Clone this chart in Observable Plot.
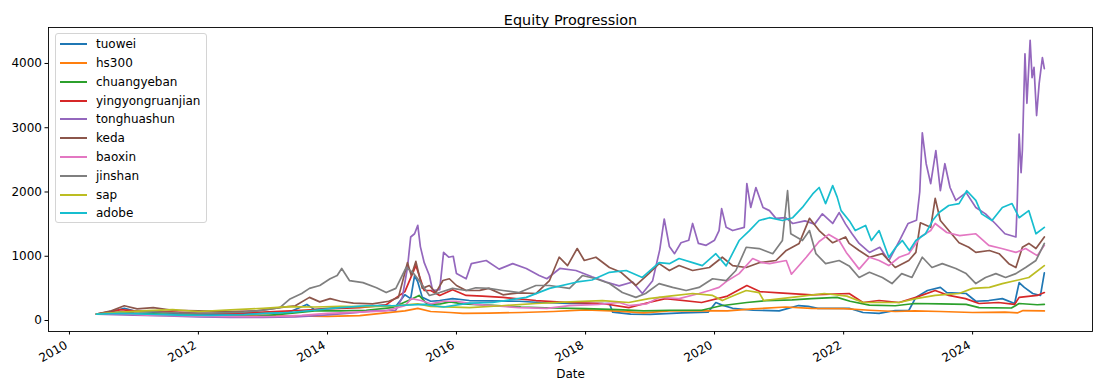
<!DOCTYPE html>
<html>
<head>
<meta charset="utf-8">
<script src="https://cdn.jsdelivr.net/npm/d3@7"></script>
<script src="https://cdn.jsdelivr.net/npm/@observablehq/plot@0.6"></script>
<style>
  html, body { margin: 0; padding: 0; background: #fff; }
  #wrap { position: relative; width: 1103px; height: 390px; font-family: "DejaVu Sans", sans-serif; }
  #legend { position: absolute; left: 55px; top: 33px; width: 152px; height: 190px; box-sizing: border-box;
    border: 1px solid #d4d4d4; border-radius: 3px; background: rgba(255,255,255,0.8); }
  .item { position: absolute; left: 0; width: 150px; height: 16px; font-size: 12px; color: #000; white-space: nowrap; }
  .item .sw { position: absolute; left: 4px; top: 7px; width: 27px; height: 2px; display: block; }
  .item .lb { position: absolute; left: 40px; top: 0; line-height: 16px; display: block; }
</style>
</head>
<body>
<div id="wrap"></div>
<script>
// [decimal year, value]
const tuowei = [[2010.42,100],[2010.6,120],[2010.85,190],[2011.0,150],[2011.3,130],[2011.7,110],[2012.0,95],[2012.5,100],[2013.0,105],[2013.4,130],[2013.68,250],[2013.8,170],[2014.0,190],[2014.3,210],[2014.6,220],[2014.9,240],[2015.06,220],[2015.2,400],[2015.29,340],[2015.35,700],[2015.4,600],[2015.47,360],[2015.6,300],[2015.74,311],[2015.94,340],[2016.2,311],[2016.97,300],[2017.3,280],[2017.75,265],[2018.37,265],[2018.42,130],[2018.7,100],[2019.0,95],[2019.5,120],[2019.9,130],[2020.02,280],[2020.12,240],[2020.28,190],[2020.6,160],[2021.0,150],[2021.3,233],[2021.45,220],[2021.6,190],[2022.085,190],[2022.3,125],[2022.55,110],[2022.8,156],[2023.01,156],[2023.12,360],[2023.3,467],[2023.5,515],[2023.6,435],[2023.9,420],[2024.05,300],[2024.25,311],[2024.46,340],[2024.65,265],[2024.72,590],[2024.8,515],[2024.93,420],[2025.05,390],[2025.11,740]];
const hs300 = [[2010.42,100],[2010.8,105],[2011.0,100],[2011.5,85],[2012.0,75],[2012.5,70],[2013.0,80],[2013.5,70],[2014.0,65],[2014.5,75],[2014.9,120],[2015.2,150],[2015.4,190],[2015.6,140],[2015.9,125],[2016.1,110],[2016.5,115],[2017.0,125],[2017.5,140],[2018.0,165],[2018.5,145],[2018.9,120],[2019.3,150],[2019.8,155],[2020.2,150],[2020.6,180],[2021.1,210],[2021.5,190],[2022.0,185],[2022.4,160],[2022.8,140],[2023.1,150],[2023.5,140],[2024.0,125],[2024.5,130],[2024.7,120],[2024.78,155],[2025.11,150]];
const chuangyeban = [[2010.42,100],[2010.8,130],[2011.0,115],[2011.5,95],[2012.0,75],[2012.5,70],[2012.9,65],[2013.3,100],[2013.8,150],[2014.2,150],[2014.6,160],[2015.0,200],[2015.3,330],[2015.42,390],[2015.55,250],[2015.75,260],[2015.9,290],[2016.1,260],[2016.5,240],[2017.0,210],[2017.5,195],[2018.0,185],[2018.5,170],[2018.9,150],[2019.3,160],[2019.8,160],[2020.1,230],[2020.5,280],[2020.8,310],[2021.2,320],[2021.5,340],[2021.9,360],[2022.1,300],[2022.4,240],[2022.8,230],[2023.1,265],[2023.5,260],[2023.9,250],[2024.1,200],[2024.6,195],[2024.72,265],[2025.0,245],[2025.11,250]];
const yingyongruanjian = [[2010.42,100],[2010.8,170],[2011.0,150],[2011.5,140],[2012.0,110],[2012.5,110],[2013.0,130],[2013.6,160],[2014.0,180],[2014.5,200],[2014.9,240],[2015.2,450],[2015.37,855],[2015.5,467],[2015.6,467],[2015.74,390],[2015.94,480],[2016.15,390],[2016.4,380],[2016.72,360],[2017.23,311],[2017.75,280],[2018.26,265],[2018.67,200],[2018.98,280],[2019.24,340],[2019.8,280],[2020.2,380],[2020.5,545],[2020.7,450],[2021.0,430],[2021.5,400],[2022.085,420],[2022.3,280],[2022.55,311],[2022.86,280],[2023.12,360],[2023.42,467],[2023.63,390],[2023.89,340],[2024.1,265],[2024.4,280],[2024.65,250],[2024.72,360],[2025.0,390],[2025.11,435]];
const tonghuashun = [[2010.42,100],[2010.7,90],[2011.0,85],[2011.5,70],[2012.0,55],[2012.5,50],[2013.0,50],[2013.5,55],[2013.9,80],[2014.3,110],[2014.7,150],[2015.06,160],[2015.16,360],[2015.24,825],[2015.29,1300],[2015.35,1350],[2015.4,1480],[2015.44,1150],[2015.5,900],[2015.58,700],[2015.63,467],[2015.74,480],[2015.8,1060],[2015.88,985],[2015.95,1000],[2016.0,730],[2016.15,650],[2016.23,885],[2016.46,934],[2016.66,800],[2016.87,885],[2017.08,810],[2017.28,700],[2017.4,650],[2017.6,810],[2017.85,778],[2018.1,680],[2018.32,600],[2018.52,540],[2018.73,600],[2018.88,420],[2019.04,620],[2019.15,1100],[2019.22,1580],[2019.3,1150],[2019.38,1040],[2019.48,1210],[2019.6,1250],[2019.66,1510],[2019.75,1200],[2019.87,1170],[2020.0,1250],[2020.07,1400],[2020.11,1740],[2020.18,1450],[2020.28,1400],[2020.46,1450],[2020.5,2130],[2020.56,1760],[2020.64,2070],[2020.75,1760],[2020.85,1710],[2020.95,1590],[2021.1,1600],[2021.21,1510],[2021.4,1550],[2021.55,1500],[2021.67,1660],[2021.83,1510],[2021.93,1680],[2022.03,1500],[2022.13,1350],[2022.24,1200],[2022.4,1060],[2022.56,1140],[2022.7,930],[2022.87,1250],[2023.0,1510],[2023.13,1560],[2023.18,2000],[2023.22,2920],[2023.28,2440],[2023.35,2130],[2023.43,2645],[2023.5,2020],[2023.57,2440],[2023.65,2070],[2023.74,1870],[2023.9,1990],[2024.05,1760],[2024.2,1660],[2024.35,1510],[2024.5,1350],[2024.67,1300],[2024.69,1820],[2024.72,2900],[2024.75,2300],[2024.77,2650],[2024.81,4150],[2024.84,3380],[2024.89,4360],[2024.92,3780],[2024.95,3940],[2024.99,3190],[2025.03,3690],[2025.08,4090],[2025.11,3920]];
const keda = [[2010.42,100],[2010.65,150],[2010.85,230],[2011.05,180],[2011.3,200],[2011.6,160],[2012.0,150],[2012.5,140],[2012.9,150],[2013.26,200],[2013.5,230],[2013.72,360],[2013.88,290],[2014.04,340],[2014.2,300],[2014.4,270],[2014.7,260],[2014.95,300],[2015.1,360],[2015.24,900],[2015.3,700],[2015.37,920],[2015.47,500],[2015.58,545],[2015.68,435],[2015.79,622],[2015.89,650],[2016.0,545],[2016.15,467],[2016.36,470],[2016.5,500],[2016.72,400],[2016.97,430],[2017.23,420],[2017.44,622],[2017.59,985],[2017.72,855],[2017.87,1120],[2017.98,934],[2018.16,985],[2018.37,825],[2018.55,750],[2018.78,545],[2018.98,730],[2019.14,885],[2019.3,778],[2019.45,855],[2019.66,778],[2019.92,825],[2020.12,985],[2020.28,855],[2020.49,825],[2020.69,900],[2020.95,934],[2021.11,1090],[2021.31,1200],[2021.47,1590],[2021.62,1400],[2021.83,1210],[2022.03,1300],[2022.085,1200],[2022.24,1090],[2022.4,985],[2022.6,1040],[2022.8,825],[2023.01,934],[2023.12,1060],[2023.19,1520],[2023.35,1450],[2023.42,1900],[2023.5,1556],[2023.63,1400],[2023.79,1210],[2023.94,1140],[2024.05,1060],[2024.26,1090],[2024.41,1040],[2024.56,885],[2024.67,825],[2024.77,1140],[2024.87,1200],[2024.98,1120],[2025.11,1300]];
const baoxin = [[2010.42,100],[2010.8,110],[2011.2,85],[2011.7,75],[2012.2,65],[2012.7,60],[2013.2,65],[2013.6,80],[2014.0,110],[2014.5,130],[2014.9,150],[2015.2,230],[2015.3,340],[2015.45,311],[2015.6,260],[2015.8,300],[2016.0,300],[2016.3,250],[2016.97,200],[2017.4,190],[2017.75,233],[2018.2,250],[2018.52,280],[2018.67,233],[2018.95,260],[2019.14,360],[2019.45,340],[2019.76,420],[2019.92,467],[2020.07,515],[2020.2,620],[2020.38,730],[2020.59,965],[2020.74,900],[2020.85,885],[2021.11,934],[2021.19,720],[2021.42,985],[2021.62,1230],[2021.77,1340],[2021.93,1245],[2022.04,1060],[2022.24,800],[2022.4,985],[2022.55,934],[2022.7,855],[2022.86,985],[2023.01,1040],[2023.19,1300],[2023.35,1400],[2023.42,1510],[2023.6,1370],[2023.8,1320],[2024.05,1350],[2024.25,1170],[2024.45,1120],[2024.67,1060],[2024.82,1120],[2025.0,1010],[2025.11,1170]];
const jinshan = [[2010.42,100],[2010.8,130],[2011.2,140],[2011.7,120],[2012.2,115],[2012.7,130],[2013.0,160],[2013.26,200],[2013.41,330],[2013.6,420],[2013.72,500],[2013.88,545],[2014.04,650],[2014.15,700],[2014.22,810],[2014.34,622],[2014.55,590],[2014.76,510],[2014.91,435],[2015.06,500],[2015.22,825],[2015.32,750],[2015.42,622],[2015.58,390],[2015.74,435],[2015.94,500],[2016.15,467],[2016.3,510],[2016.5,500],[2016.72,467],[2016.97,435],[2017.23,545],[2017.44,545],[2017.75,500],[2017.95,700],[2018.16,650],[2018.37,575],[2018.57,435],[2018.78,360],[2018.93,420],[2019.14,575],[2019.35,515],[2019.56,467],[2019.76,515],[2019.97,650],[2020.18,622],[2020.33,778],[2020.49,1140],[2020.69,1120],[2020.9,1040],[2021.05,1245],[2021.13,2020],[2021.18,1350],[2021.36,1245],[2021.47,1400],[2021.57,1040],[2021.72,885],[2021.93,934],[2022.085,850],[2022.24,670],[2022.4,750],[2022.6,670],[2022.75,575],[2022.9,730],[2023.06,670],[2023.22,985],[2023.37,825],[2023.53,885],[2023.74,810],[2023.9,730],[2024.05,575],[2024.2,670],[2024.36,730],[2024.51,670],[2024.67,730],[2024.82,825],[2024.98,934],[2025.11,1200]];
const sap = [[2010.42,100],[2010.8,130],[2011.2,155],[2011.6,170],[2012.0,140],[2012.5,165],[2013.0,190],[2013.4,215],[2013.8,210],[2014.2,220],[2014.6,215],[2015.0,225],[2015.4,260],[2015.6,220],[2016.2,200],[2016.7,230],[2017.23,265],[2017.75,290],[2018.26,311],[2018.67,280],[2018.98,340],[2019.3,380],[2019.66,420],[2019.97,390],[2020.12,311],[2020.3,390],[2020.49,467],[2020.69,435],[2020.76,311],[2021.2,360],[2021.7,420],[2022.05,380],[2022.3,280],[2022.86,280],[2023.12,340],[2023.42,390],[2023.79,420],[2024.0,500],[2024.26,515],[2024.46,575],[2024.67,622],[2024.87,670],[2025.11,855]];
const adobe = [[2010.42,100],[2010.8,110],[2011.2,100],[2011.7,85],[2012.2,80],[2012.7,90],[2013.0,110],[2013.4,125],[2013.8,160],[2014.2,200],[2014.6,230],[2015.0,230],[2015.5,250],[2015.8,210],[2016.2,270],[2016.56,280],[2017.08,360],[2017.44,500],[2017.87,600],[2018.1,630],[2018.37,750],[2018.63,778],[2018.88,670],[2019.14,900],[2019.3,885],[2019.45,965],[2019.66,900],[2019.81,855],[2020.02,1040],[2020.18,850],[2020.38,1245],[2020.54,1400],[2020.69,1556],[2020.85,1600],[2021.05,1556],[2021.21,1600],[2021.36,1760],[2021.52,1970],[2021.62,2070],[2021.72,1820],[2021.83,2100],[2021.9,1920],[2021.96,1710],[2022.09,1550],[2022.18,1400],[2022.34,1480],[2022.43,1245],[2022.55,1400],[2022.7,985],[2022.81,1140],[2022.91,1245],[2023.02,1090],[2023.12,1245],[2023.27,1350],[2023.38,1556],[2023.48,1680],[2023.63,1790],[2023.79,1820],[2023.91,2020],[2024.05,1870],[2024.14,1660],[2024.3,1556],[2024.46,1760],[2024.61,1820],[2024.72,1600],[2024.87,1710],[2024.98,1350],[2025.11,1450]];

const seriesNames = ["tuowei","hs300","chuangyeban","yingyongruanjian","tonghuashun","keda","baoxin","jinshan","sap","adobe"];
const seriesData = [tuowei, hs300, chuangyeban, yingyongruanjian, tonghuashun, keda, baoxin, jinshan, sap, adobe];
const seriesColors = ["#1f77b4","#ff7f0e","#2ca02c","#d62728","#9467bd","#8c564b","#e377c2","#7f7f7f","#bcbd22","#17becf"];
const xTickYears = [2010, 2012, 2014, 2016, 2018, 2020, 2022, 2024];
const yTicks = [0, 1000, 2000, 3000, 4000];
const titleText = "Equity Progression";
const xLabel = "Date";

function dec(t) {
  const y = Math.floor(t);
  const s = Date.UTC(y, 0, 1), e = Date.UTC(y + 1, 0, 1);
  return new Date(s + (t - y) * (e - s));
}

const rows = [];
seriesNames.forEach((name, i) => {
  for (const [t, v] of seriesData[i]) rows.push({series: name, date: dec(t), value: v});
});
const xTicks = xTickYears.map(y => new Date(Date.UTC(y, 0, 1)));

const chart = Plot.plot({
  width: 1103,
  height: 390,
  marginLeft: 48,
  marginRight: 11,
  marginTop: 27,
  marginBottom: 59,
  style: {fontFamily: "DejaVu Sans, sans-serif", fontSize: "12px", color: "#000", background: "#fff"},
  x: {type: "utc", domain: [dec(2009.675), dec(2025.857)]},
  y: {domain: [-171, 4560]},
  color: {domain: seriesNames, range: seriesColors},
  marks: [
    Plot.line(rows, {x: "date", y: "value", z: "series", stroke: "series", strokeWidth: 1.7, strokeLinejoin: "round"}),
    Plot.frame({stroke: "#000", strokeWidth: 0.9}),
    Plot.axisX({ticks: xTicks, tickFormat: () => "", tickSize: 3.5, label: null}),
    Plot.axisX({ticks: xTicks, tickFormat: d3.utcFormat("%Y"), tickRotate: -30, tickSize: 0, tickPadding: 6.5,
      label: null, fontSize: 12, dy: 6, dx: -3}),
    Plot.axisY({ticks: yTicks, tickFormat: d => String(d), tickSize: 3.5, tickPadding: 3, label: null, fontSize: 12}),
    Plot.text([titleText], {frameAnchor: "top", dy: -13, fontSize: 14.4, fill: "#000"}),
    Plot.text([xLabel], {frameAnchor: "bottom", dy: 46, fontSize: 12, fill: "#000"})
  ]
});

const wrap = document.getElementById("wrap");
wrap.appendChild(chart);

const legend = document.createElement("div");
legend.id = "legend";
seriesNames.forEach((name, i) => {
  const it = document.createElement("div");
  it.className = "item";
  it.style.top = (2.3 + i * 18.78) + "px";
  const sw = document.createElement("div");
  sw.className = "sw";
  sw.style.backgroundColor = seriesColors[i];
  const lb = document.createElement("div");
  lb.className = "lb";
  lb.textContent = name;
  it.appendChild(sw); it.appendChild(lb);
  legend.appendChild(it);
});
wrap.appendChild(legend);
</script>
</body>
</html>
